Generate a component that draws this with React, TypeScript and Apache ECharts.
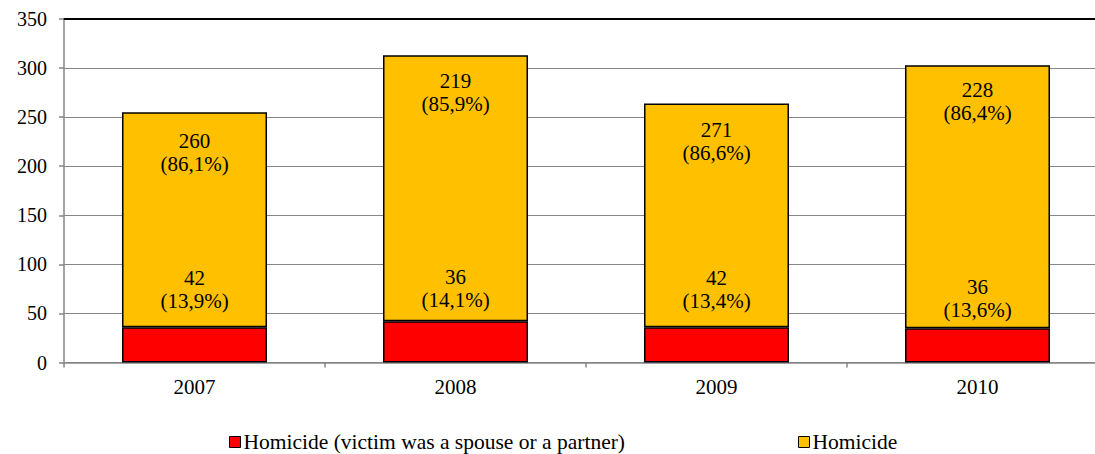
import React, { useEffect, useRef } from "react";
import * as echarts from "echarts";

const categories = ["2007", "2008", "2009", "2010"];
const spouseValues = [36, 42, 36, 35];
const otherValues = [219, 271, 228, 268];
const spouseLabels = ["42\n(13,9%)", "36\n(14,1%)", "42\n(13,4%)", "36\n(13,6%)"];
const otherLabels = ["260\n(86,1%)", "219\n(85,9%)", "271\n(86,6%)", "228\n(86,4%)"];
const seriesNames = ["Homicide (victim was a spouse or a partner)", "Homicide"];
const yTicks = { min: 0, max: 350, interval: 50 };

const FONT = "Liberation Serif";
// label gaps (styling, in px) as placed in the original
const spouseLabelGap = [15, 9.5, 15, 6.5];
const otherLabelGap = [17, 14, 15, 13.5];

export default function App() {
  const ref = useRef<HTMLDivElement>(null);
  useEffect(() => {
    if (!ref.current) return;
    const chart = echarts.init(ref.current, undefined, { renderer: "svg" });
    const gray = "#868686";
    const txt = { fontFamily: FONT, fontSize: 21, color: "#000", fontWeight: "normal" as const };
    chart.setOption({
      animation: false,
      textStyle: { fontFamily: FONT, color: "#000" },
      grid: { left: 64, top: 19, right: 12, bottom: 91.5 },
      legend: {
        left: 229,
        top: 431,
        padding: 0,
        itemWidth: 11,
        itemHeight: 11,
        itemGap: 173,
        icon: "rect",
        textStyle: { ...txt, fontSize: 21.5, padding: [0, 0, 0, -2] },
        itemStyle: { borderColor: "#000", borderWidth: 1 },
        data: seriesNames,
      },
      xAxis: [
        {
          type: "category",
          data: categories,
          axisLine: { lineStyle: { color: gray, width: 1.5 } },
          axisTick: { show: true, length: 5, lineStyle: { color: gray, width: 1.5 } },
          axisLabel: { ...txt, margin: 14 },
        },
        {
          type: "category",
          position: "top",
          data: categories,
          axisLine: { lineStyle: { color: "#000", width: 2 } },
          axisTick: { show: false },
          axisLabel: { show: false },
        },
      ],
      yAxis: {
        type: "value",
        min: yTicks.min,
        max: yTicks.max,
        interval: yTicks.interval,
        axisLine: { show: true, lineStyle: { color: gray, width: 1.5 } },
        axisTick: { show: true, length: 5, lineStyle: { color: gray, width: 1.5 } },
        axisLabel: { ...txt, fontSize: 20, margin: 17 },
        splitLine: { lineStyle: { color: gray, width: 1.2 } },
      },
      series: [
        {
          name: seriesNames[0],
          type: "bar",
          stack: "total",
          barWidth: 145,
          data: spouseValues.map((v, i) => ({ value: v, label: { distance: spouseLabelGap[i] } })),
          itemStyle: { color: "#FF0000", borderColor: "#000", borderWidth: 1.5 },
          label: {
            show: true,
            position: "top",
            ...txt,
            lineHeight: 23,
            formatter: (p: any) => spouseLabels[p.dataIndex],
          },
        },
        {
          name: seriesNames[1],
          type: "bar",
          stack: "total",
          barWidth: 145,
          data: otherValues.map((v, i) => ({ value: v, label: { distance: otherLabelGap[i] } })),
          itemStyle: { color: "#FFC000", borderColor: "#000", borderWidth: 1.5 },
          label: {
            show: true,
            position: "insideTop",
            ...txt,
            lineHeight: 23,
            formatter: (p: any) => otherLabels[p.dataIndex],
          },
        },
      ],
    });
    return () => chart.dispose();
  }, []);
  return (
    <div
      style={{
        position: "fixed",
        left: 0,
        top: 0,
        width: 1095,
        height: 454,
        overflow: "hidden",
        background: "#fff",
      }}
    >
      <div ref={ref} style={{ width: 1120, height: 454 }} />
    </div>
  );
}
